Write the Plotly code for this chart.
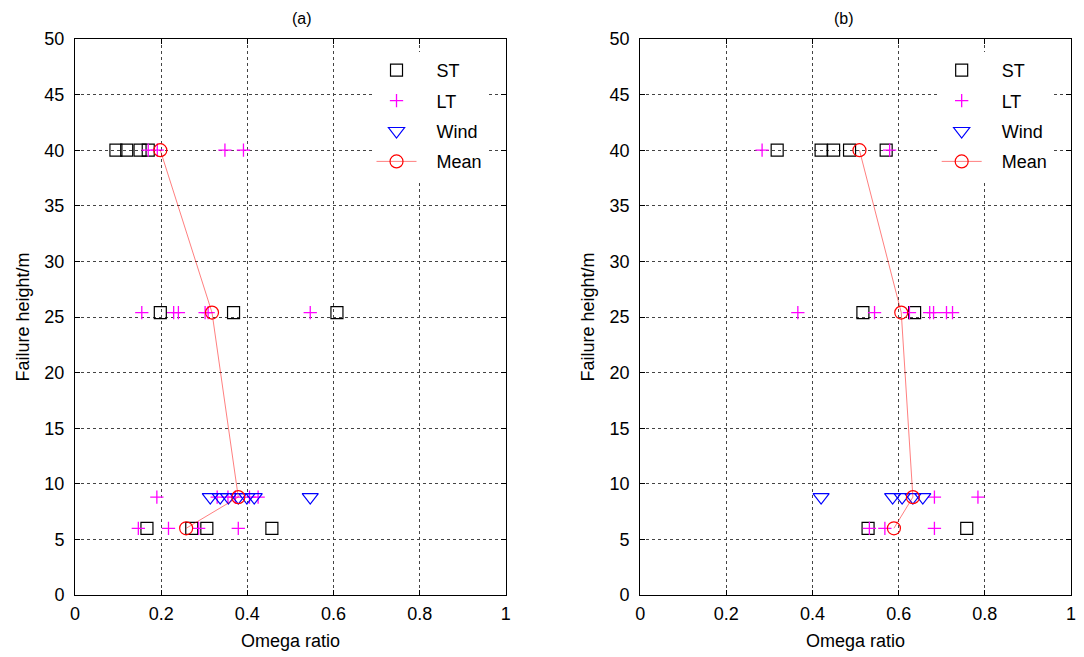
import plotly.graph_objects as go

# ---- data ----
row_y = [40, 25.4, 8.8, 6]
series_names = ["ST", "LT", "Wind", "Mean"]

# Panel (a)
a_st_x = [0.095, 0.120, 0.151, 0.170, 0.198, 0.368, 0.608, 0.167, 0.271, 0.306, 0.457]
a_st_y = [40, 40, 40, 40, 25.4, 25.4, 25.4, 6, 6, 6, 6]
a_lt_x = [0.170, 0.191, 0.348, 0.391,
          0.155, 0.229, 0.240, 0.302, 0.309, 0.546,
          0.190, 0.330, 0.355, 0.372, 0.405, 0.425,
          0.147, 0.217, 0.287, 0.379]
a_lt_y = [40, 40, 40, 40,
          25.4, 25.4, 25.4, 25.4, 25.4, 25.4,
          8.8, 8.8, 8.8, 8.8, 8.8, 8.8,
          6, 6, 6, 6]
a_wind_x = [0.314, 0.337, 0.356, 0.379, 0.399, 0.416, 0.546]
a_wind_y = [8.8, 8.8, 8.8, 8.8, 8.8, 8.8, 8.8]
a_mean_x = [0.198, 0.318, 0.379, 0.258]

# Panel (b)
b_st_x = [0.318, 0.420, 0.449, 0.486, 0.571, 0.517, 0.637, 0.529, 0.758]
b_st_y = [40, 40, 40, 40, 40, 25.4, 25.4, 6, 6]
b_lt_x = [0.283, 0.579,
          0.366, 0.544, 0.625, 0.672, 0.681, 0.711, 0.725,
          0.683, 0.784,
          0.532, 0.568, 0.683]
b_lt_y = [40, 40,
          25.4, 25.4, 25.4, 25.4, 25.4, 25.4, 25.4,
          8.8, 8.8,
          6, 6, 6]
b_wind_x = [0.420, 0.586, 0.608, 0.633, 0.656]
b_wind_y = [8.8, 8.8, 8.8, 8.8, 8.8]
b_mean_x = [0.509, 0.606, 0.633, 0.589]

x_ticks = [0, 0.2, 0.4, 0.6, 0.8, 1]
x_tick_text = ["0", "0.2", "0.4", "0.6", "0.8", "1"]
y_ticks = [0, 5, 10, 15, 20, 25, 30, 35, 40, 45, 50]

FONT = "Liberation Sans, Arial, sans-serif"
PAD = "\u00a0\u00a0\u00a0"

fig = go.Figure()


def add_panel(xa, ya, legend, st_x, st_y, lt_x, lt_y, w_x, w_y, m_x):
    fig.add_trace(go.Scatter(
        x=st_x, y=st_y, mode="markers", name=PAD + series_names[0], xaxis=xa, yaxis=ya, legend=legend,
        legendgroup=legend + "st",
        marker=dict(symbol="square-open", size=12, color="black", line=dict(width=1.2, color="black"))))
    fig.add_trace(go.Scatter(
        x=lt_x, y=lt_y, mode="markers", name=PAD + series_names[1], xaxis=xa, yaxis=ya, legend=legend,
        legendgroup=legend + "lt",
        marker=dict(symbol="cross-thin", size=9.5, color="#ff00ff", line=dict(width=1.3, color="#ff00ff"))))
    fig.add_trace(go.Scatter(
        x=w_x, y=w_y, mode="markers", name=PAD + series_names[2], xaxis=xa, yaxis=ya, legend=legend,
        legendgroup=legend + "w",
        marker=dict(symbol="triangle-down-open", size=14, color="#0000ff", line=dict(width=1.2, color="#0000ff"))))
    fig.add_trace(go.Scatter(
        x=m_x, y=row_y, mode="lines+markers", name=PAD + series_names[3], xaxis=xa, yaxis=ya, legend=legend,
        legendgroup=legend + "m",
        line=dict(color="rgba(255,0,0,0.5)", width=1),
        marker=dict(symbol="circle-open", size=13, color="#ff0000", line=dict(width=1.2, color="#ff0000"))))


add_panel("x", "y", "legend", a_st_x, a_st_y, a_lt_x, a_lt_y, a_wind_x, a_wind_y, a_mean_x)
add_panel("x2", "y2", "legend2", b_st_x, b_st_y, b_lt_x, b_lt_y, b_wind_x, b_wind_y, b_mean_x)

W, H = 1084, 657
ml, mr, mt, mb = 75, 8, 39, 62
pw = W - ml - mr
ph = H - mt - mb
axis_w = 433
dom_a = [0, axis_w / pw]
dom_b = [(643 - ml) / pw, 1]

common_x = dict(range=[0, 1], tickvals=x_ticks, ticktext=x_tick_text, showgrid=True,
                gridcolor="#444444", griddash="dot", gridwidth=1, zeroline=False,
                showline=True, linecolor="black", linewidth=1, mirror="ticks",
                ticks="inside", ticklen=5, tickcolor="black", ticklabelstandoff=2,
                tickfont=dict(family=FONT, size=18, color="black"),
                title=dict(text="Omega ratio", font=dict(family=FONT, size=18, color="black"), standoff=11))
common_y = dict(range=[0, 50], tickvals=y_ticks, showgrid=True,
                gridcolor="#444444", griddash="dot", gridwidth=1, zeroline=False,
                showline=True, linecolor="black", linewidth=1, mirror="ticks",
                ticks="inside", ticklen=5, tickcolor="black", ticklabelstandoff=6,
                tickfont=dict(family=FONT, size=18, color="black"),
                title=dict(text="Failure height/m", font=dict(family=FONT, size=18, color="black"), standoff=10))

legend_common = dict(bgcolor="white", borderwidth=0, font=dict(family=FONT, size=18, color="black"),
                     xanchor="left", yanchor="top", tracegroupgap=4, itemwidth=40)

fig.update_layout(
    width=W, height=H,
    margin=dict(l=ml, r=mr, t=mt, b=mb),
    plot_bgcolor="white", paper_bgcolor="white",
    xaxis=dict(domain=dom_a, anchor="y", **common_x),
    yaxis=dict(domain=[0, 1], anchor="x", **common_y),
    xaxis2=dict(domain=dom_b, anchor="y2", **common_x),
    yaxis2=dict(domain=[0, 1], anchor="x2", **common_y),
    legend=dict(x=(373 - ml) / pw, y=1 - (52 - mt) / ph, **legend_common),
    legend2=dict(x=(941 - ml) / pw, y=1 - (52 - mt) / ph, **legend_common),
    annotations=[
        dict(text="(a)", x=sum(dom_a) / 2, y=1, xref="paper", yref="paper", yanchor="bottom",
             yshift=10, showarrow=False, font=dict(family=FONT, size=16, color="black")),
        dict(text="(b)", x=sum(dom_b) / 2, y=1, xref="paper", yref="paper", yanchor="bottom",
             yshift=10, showarrow=False, font=dict(family=FONT, size=16, color="black")),
    ],
)

fig.write_html("out.html")
